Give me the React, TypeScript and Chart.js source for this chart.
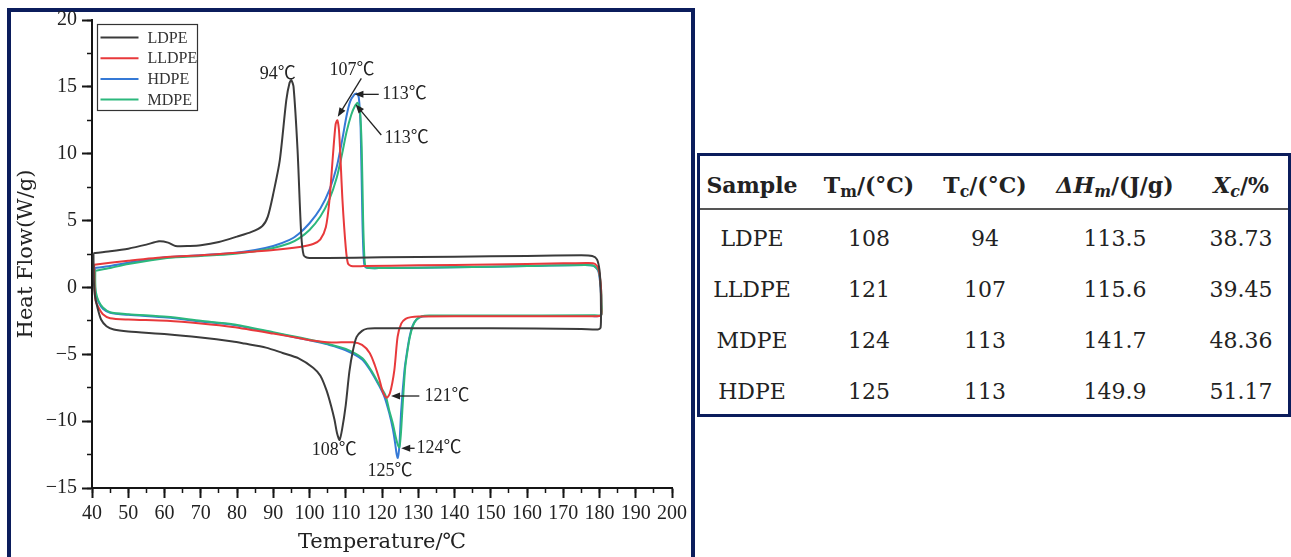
import React, { useEffect, useRef } from 'react';
import { Chart, registerables } from 'chart.js';

Chart.register(...registerables);

// ---------------- chart data (closed DSC loops: cooling curve left→right, heating curve right→left) ----------------
const seriesNames = ['LDPE', 'LLDPE', 'HDPE', 'MDPE'];

const ldpeT = [40.4, 45, 50, 55, 58.5, 61, 63, 67, 70, 75, 80, 84, 87, 88.5, 90, 91.8, 93.6, 94.5, 95, 95.6, 96.7, 97.7, 98.4, 99.5, 105, 120, 140, 160, 175, 178, 179.3, 180, 180.3, 180.4, 180.3, 179.5, 175, 150, 130, 118, 116, 114.5, 113, 112, 111, 110, 109, 108.3, 107.6, 106.9, 106, 104.7, 103, 101, 97, 92.6, 88, 82, 78.8, 70, 60.7, 50, 46, 44, 42.5, 41.5, 40.8, 40.5, 40.4];
const ldpeHF = [2.55, 2.7, 2.9, 3.2, 3.45, 3.35, 3.1, 3.1, 3.15, 3.4, 3.8, 4.15, 4.6, 5.3, 7.0, 9.5, 14.0, 15.3, 15.5, 15.0, 10.3, 4.05, 2.4, 2.22, 2.2, 2.25, 2.3, 2.35, 2.4, 2.35, 2.1, 1.3, 0, -1.5, -3.0, -3.15, -3.1, -3.05, -3.05, -3.05, -3.08, -3.25, -3.7, -4.7, -6.3, -8.8, -10.6, -11.4, -10.9, -9.9, -8.9, -7.7, -6.6, -6.0, -5.3, -4.9, -4.5, -4.2, -4.05, -3.75, -3.5, -3.3, -3.15, -2.9, -2.4, -1.5, -0.6, 0.5, 2.55];

const lldpeT = [40.6, 45, 50, 60.7, 70, 78.8, 90, 97.3, 101, 103, 104.5, 105.5, 106.5, 107.2, 107.7, 108.2, 109.1, 110, 110.6, 111.5, 115, 130, 150, 170, 177, 178.8, 179.8, 180.4, 180.5, 180.4, 178, 150, 130, 128, 126.5, 125.3, 124.3, 123.4, 122.2, 121.3, 120.2, 119.3, 118, 116.6, 114.5, 112, 106, 100, 97.3, 90, 78.8, 70, 60.7, 50, 45, 43, 41.8, 41, 40.7, 40.6];
const lldpeHF = [1.7, 1.85, 2.0, 2.27, 2.4, 2.57, 2.8, 3.03, 3.25, 3.6, 4.5, 6.5, 10.0, 12.2, 12.5, 11.5, 6.5, 3.0, 1.8, 1.6, 1.6, 1.65, 1.72, 1.8, 1.83, 1.75, 1.3, 0, -1.5, -2.1, -2.15, -2.15, -2.17, -2.22, -2.35, -2.7, -3.7, -6.2, -7.9, -8.25, -7.8, -6.9, -5.8, -4.9, -4.3, -4.1, -4.12, -3.95, -3.8, -3.45, -2.96, -2.7, -2.5, -2.4, -2.3, -2.0, -1.5, -1.0, 0, 1.7];

const hdpeT = [40.8, 45, 50, 55, 60.7, 70, 78.8, 85, 90, 94.5, 97, 100, 103, 105.5, 107.5, 109, 110.2, 111.2, 112.3, 113, 113.6, 114.1, 114.6, 115, 115.5, 120, 140, 160, 176, 178.5, 179.7, 180.3, 180.5, 180.4, 178, 150, 133, 131, 129.4, 128.4, 127.6, 126.8, 126.2, 125.3, 124.8, 124.35, 124, 123.6, 123, 122, 120.7, 119.3, 117, 114.6, 110, 105.5, 97.3, 90, 78.8, 70, 60.7, 50, 45, 43, 41.8, 41, 40.8, 40.8];
const hdpeHF = [1.45, 1.6, 1.85, 2.05, 2.27, 2.4, 2.57, 2.8, 3.1, 3.55, 4.0, 4.8, 5.9, 7.3, 9.0, 11.0, 12.8, 13.9, 14.4, 14.5, 14.2, 12.0, 5.0, 2.0, 1.5, 1.45, 1.5, 1.6, 1.67, 1.6, 1.2, 0, -1.2, -2.1, -2.14, -2.14, -2.14, -2.18, -2.44, -2.9, -3.7, -5.0, -6.2, -9.2, -11.8, -12.75, -12.4, -11.6, -10.6, -9.4, -8.2, -7.4, -6.3, -5.4, -4.7, -4.3, -3.8, -3.4, -2.8, -2.55, -2.25, -2.05, -1.9, -1.6, -1.1, -0.5, 0.3, 1.45];

const mdpeT = [40.9, 45, 50, 60.7, 70, 78.8, 85, 90, 94.5, 97, 100, 103, 105.5, 107.5, 109, 110.2, 111.5, 112.6, 113.3, 113.9, 114.4, 114.8, 115.2, 115.7, 120, 140, 160, 176, 178.5, 179.8, 180.4, 180.6, 180.5, 178, 150, 133, 131, 129.5, 128.5, 127.7, 127, 126.4, 125.7, 125.2, 124.8, 124.4, 123.8, 123, 122, 121, 119.3, 117, 114.6, 110, 105.5, 97.3, 90, 78.8, 70, 60.7, 50, 45, 43, 41.8, 41.1, 40.9, 40.9];
const mdpeHF = [1.25, 1.45, 1.75, 2.2, 2.35, 2.5, 2.7, 2.95, 3.3, 3.65, 4.3, 5.3, 6.6, 8.2, 10.0, 11.6, 12.9, 13.6, 13.8, 13.3, 10.5, 5.0, 2.0, 1.5, 1.45, 1.5, 1.6, 1.67, 1.6, 1.2, 0, -1.2, -2.05, -2.08, -2.1, -2.1, -2.15, -2.4, -2.9, -3.7, -4.8, -6.0, -8.8, -11.0, -11.95, -11.8, -11.2, -10.2, -9.2, -8.1, -7.3, -6.2, -5.3, -4.6, -4.25, -3.75, -3.35, -2.75, -2.5, -2.2, -2.0, -1.85, -1.5, -1.0, -0.4, 0.3, 1.25];

const seriesT = [ldpeT, lldpeT, hdpeT, mdpeT];
const seriesHF = [ldpeHF, lldpeHF, hdpeHF, mdpeHF];

// axis ranges and tick steps
const xRange = [40, 200];
const yRange = [-15, 20];
const xMajorStep = 10;
const xMinorStep = 5;
const yMajorStep = 5;
const yMinorStep = 2.5;
const xTitle = 'Temperature/℃';
const yTitle = 'Heat Flow(W/g)';

// peak annotations (data coordinates)
const peakLabels = ['94℃', '107℃', '113℃', '113℃', '108℃', '121℃', '124℃', '125℃'];
const peakLabelT = [86.3, 105.5, 120.1, 120.7, 100.6, 131.7, 129.5, 116.0];
const peakLabelHF = [15.96, 16.26, 14.44, 11.17, -12.16, -8.12, -12.03, -13.78];
const arrowTailT = [114.3, 119.1, 119.8, 130.3, 129.0];
const arrowTailHF = [15.64, 14.44, 11.4, -8.12, -12.03];
const arrowHeadT = [107.8, 112.4, 112.7, 122.5, 125.3];
const arrowHeadHF = [12.77, 14.44, 13.7, -8.12, -12.03];

// table
const tableSamples = ['LDPE', 'LLDPE', 'MDPE', 'HDPE'];
const tableTm = ['108', '121', '124', '125'];
const tableTc = ['94', '107', '113', '113'];
const tableDH = ['113.5', '115.6', '141.7', '149.9'];
const tableXc = ['38.73', '39.45', '48.36', '51.17'];

// ---------------- styles ----------------
const seriesColors = ['#3b3b3b', '#e8393b', '#3579d6', '#2cb87d'];
const drawOrder = [0, 1, 3, 2]; // lower = on top
const NAVY = '#0b1d5c';
const AXIS = '#151515';
const SERIF = "'Liberation Serif', 'Noto Sans CJK SC', serif";
const TITLE = "'DejaVu Serif', serif";

const legendPlugin = {
  id: 'boxLegend',
  afterDatasetsDraw(chart: any) {
    const { ctx, chartArea } = chart;
    const x0 = chartArea.left + 5.5;
    const y0 = chartArea.top + 4.5;
    const w = 100;
    const h = 86;
    ctx.save();
    ctx.fillStyle = '#fff';
    ctx.fillRect(x0, y0, w, h);
    ctx.strokeStyle = '#333';
    ctx.lineWidth = 1.2;
    ctx.strokeRect(x0, y0, w, h);
    chart.data.datasets.forEach((ds: any, i: number) => {
      const yy = y0 + 13 + i * 20.7;
      ctx.strokeStyle = ds.borderColor;
      ctx.lineWidth = 2;
      ctx.beginPath();
      ctx.moveTo(x0 + 3, yy);
      ctx.lineTo(x0 + 41, yy);
      ctx.stroke();
      ctx.fillStyle = '#333';
      ctx.font = `16px ${SERIF}`;
      ctx.textBaseline = 'middle';
      ctx.textAlign = 'left';
      ctx.fillText(ds.label, x0 + 50, yy + 1);
    });
    ctx.restore();
  },
};

const annotationPlugin = {
  id: 'peakNotes',
  afterDatasetsDraw(chart: any) {
    const { ctx } = chart;
    const xs = chart.scales.x;
    const ys = chart.scales.y;
    ctx.save();
    ctx.fillStyle = '#222';
    ctx.strokeStyle = '#222';
    ctx.lineWidth = 1.3;
    ctx.font = `18px ${SERIF}`;
    ctx.textBaseline = 'middle';
    ctx.textAlign = 'left';
    peakLabels.forEach((t, i) => {
      ctx.fillText(t, xs.getPixelForValue(peakLabelT[i]), ys.getPixelForValue(peakLabelHF[i]));
    });
    arrowTailT.forEach((_, i) => {
      const x1 = xs.getPixelForValue(arrowTailT[i]);
      const y1 = ys.getPixelForValue(arrowTailHF[i]);
      const x2 = xs.getPixelForValue(arrowHeadT[i]);
      const y2 = ys.getPixelForValue(arrowHeadHF[i]);
      const a = Math.atan2(y2 - y1, x2 - x1);
      const L = 9;
      const W = 3.5;
      const c = Math.cos(a);
      const s = Math.sin(a);
      ctx.beginPath();
      ctx.moveTo(x1, y1);
      ctx.lineTo(x2 - L * 0.7 * c, y2 - L * 0.7 * s);
      ctx.stroke();
      ctx.beginPath();
      ctx.moveTo(x2, y2);
      ctx.lineTo(x2 - L * c + W * s, y2 - L * s - W * c);
      ctx.lineTo(x2 - L * c - W * s, y2 - L * s + W * c);
      ctx.closePath();
      ctx.fill();
    });
    ctx.restore();
  },
};

const minus = (v: any) => {
  const n = Number(v);
  return n < 0 ? '\u2212' + Math.abs(n) : String(n);
};

export default function App() {
  const ref = useRef<HTMLCanvasElement>(null);

  useEffect(() => {
    const datasets = seriesNames.map((name, i) => ({
      label: name,
      data: seriesT[i].map((t, k) => ({ x: t, y: seriesHF[i][k] })),
      borderColor: seriesColors[i],
      backgroundColor: seriesColors[i],
      borderWidth: 2,
      pointRadius: 0,
      tension: 0.25,
      fill: false,
      order: drawOrder[i],
      xAxisID: 'x',
      yAxisID: 'y',
    }));

    const chart = new Chart(ref.current as HTMLCanvasElement, {
      type: 'line',
      data: { datasets },
      options: {
        animation: false,
        responsive: false,
        events: [],
        layout: { padding: { top: 20, right: 18, bottom: 0, left: 0 } },
        plugins: { legend: { display: false }, tooltip: { enabled: false } },
        scales: {
          x: {
            type: 'linear',
            axis: 'x',
            position: 'bottom',
            weight: 1,
            min: xRange[0],
            max: xRange[1],
            ticks: { stepSize: xMajorStep, autoSkip: false, maxRotation: 0, padding: 4, color: '#222', font: { family: SERIF, size: 20 } },
            grid: { display: true, drawOnChartArea: false, drawTicks: true, tickLength: 10, tickWidth: 2, tickColor: AXIS },
            border: { display: true, color: AXIS, width: 2 },
            title: { display: true, text: xTitle, color: '#222', font: { family: TITLE, size: 21 }, padding: { top: 0, bottom: 2 } },
            afterFit: (s: any) => { s.height = 69; },
          },
          xMinor: {
            type: 'linear',
            axis: 'x',
            position: 'bottom',
            weight: 0,
            min: xRange[0],
            max: xRange[1],
            ticks: { stepSize: xMinorStep, display: false, maxTicksLimit: 100 },
            grid: { display: true, drawOnChartArea: false, drawTicks: true, tickLength: 5, tickWidth: 1.5, tickColor: AXIS },
            border: { display: false },
            afterFit: (s: any) => { s.height = 0; },
          },
          y: {
            type: 'linear',
            axis: 'y',
            position: 'left',
            weight: 1,
            min: yRange[0],
            max: yRange[1],
            ticks: { stepSize: yMajorStep, autoSkip: false, padding: 5, color: '#222', font: { family: SERIF, size: 20 }, callback: minus },
            grid: { display: true, drawOnChartArea: false, drawTicks: true, tickLength: 10, tickWidth: 2, tickColor: AXIS },
            border: { display: true, color: AXIS, width: 2 },
            title: { display: true, text: yTitle, color: '#222', font: { family: TITLE, size: 21 }, padding: { top: 3, bottom: 0 } },
            afterFit: (s: any) => { s.width = 81; },
          },
          yMinor: {
            type: 'linear',
            axis: 'y',
            position: 'left',
            weight: 0,
            min: yRange[0],
            max: yRange[1],
            ticks: { stepSize: yMinorStep, display: false, maxTicksLimit: 100 },
            grid: { display: true, drawOnChartArea: false, drawTicks: true, tickLength: 5, tickWidth: 1.5, tickColor: AXIS },
            border: { display: false },
            afterFit: (s: any) => { s.width = 0; },
          },
        },
      } as any,
      plugins: [annotationPlugin, legendPlugin],
    });
    return () => chart.destroy();
  }, []);

  const cell: React.CSSProperties = { textAlign: 'center', verticalAlign: 'middle', padding: '5px 0 0 0', whiteSpace: 'nowrap' };
  const head: React.CSSProperties = { ...cell, fontWeight: 'bold', paddingTop: 6, borderBottom: '2px solid #555' };
  const sub: React.CSSProperties = { fontSize: '0.72em', verticalAlign: '-0.28em', lineHeight: 0 };

  return (
    <div style={{ position: 'fixed', left: 0, top: 0, width: 1291, height: 557, overflow: 'hidden', background: '#fff' }}>
      <div style={{ position: 'absolute', left: 7, top: 8, width: 688, height: 580, border: `4px solid ${NAVY}`, boxSizing: 'border-box' }} />
      <canvas ref={ref} width={680} height={557} style={{ position: 'absolute', left: 11, top: 0, width: 680, height: 557 }} />
      <table
        style={{
          position: 'absolute', left: 697, top: 153, width: 594, boxSizing: 'border-box',
          borderCollapse: 'separate', borderSpacing: 0, border: `3px solid ${NAVY}`, tableLayout: 'fixed',
          fontFamily: "'DejaVu Serif', serif", fontSize: 22, color: '#222',
        }}
      >
        <colgroup>
          <col style={{ width: 104 }} />
          <col style={{ width: 130 }} />
          <col style={{ width: 102 }} />
          <col style={{ width: 158 }} />
          <col style={{ width: 94 }} />
        </colgroup>
        <thead>
          <tr style={{ height: 54 }}>
            <th style={head}>Sample</th>
            <th style={head}>T<span style={sub}>m</span>/(°C)</th>
            <th style={head}>T<span style={sub}>c</span>/(°C)</th>
            <th style={head}><i>ΔH<span style={sub}>m</span></i>/(J/g)</th>
            <th style={head}><i>X<span style={sub}>c</span></i>/%</th>
          </tr>
        </thead>
        <tbody>
          {tableSamples.map((s, i) => (
            <tr key={s} style={{ height: 51 }}>
              <td style={cell}>{s}</td>
              <td style={cell}>{tableTm[i]}</td>
              <td style={cell}>{tableTc[i]}</td>
              <td style={cell}>{tableDH[i]}</td>
              <td style={cell}>{tableXc[i]}</td>
            </tr>
          ))}
        </tbody>
      </table>
    </div>
  );
}
